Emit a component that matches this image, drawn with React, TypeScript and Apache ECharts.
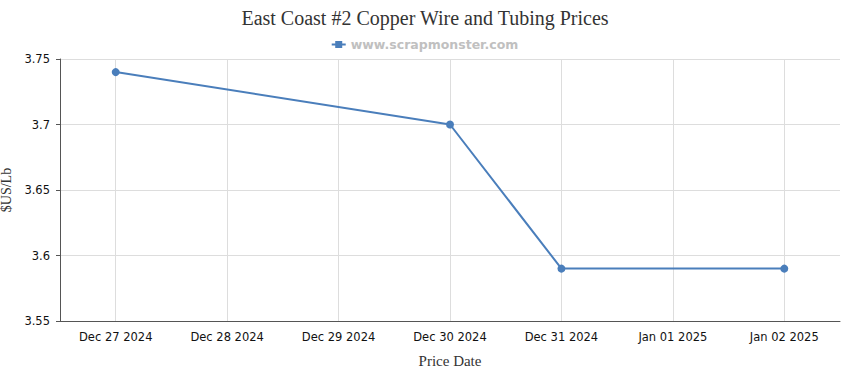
import React, { useEffect, useRef } from "react";
import * as echarts from "echarts";

const categories = ["Dec 27 2024", "Dec 28 2024", "Dec 29 2024", "Dec 30 2024", "Dec 31 2024", "Jan 01 2025", "Jan 02 2025"];
const prices: (number | null)[] = [3.74, null, null, 3.7, 3.59, null, 3.59];
const yTicks = { min: 3.55, max: 3.75, interval: 0.05 };
const seriesName = "www.scrapmonster.com";

export default function App() {
  const ref = useRef<HTMLDivElement>(null);
  useEffect(() => {
    document.body.style.margin = "0";
    const chart = echarts.init(ref.current!, null, { renderer: "svg" });
    chart.setOption({
      animation: false,
      title: {
        text: "East Coast #2 Copper Wire and Tubing Prices",
        left: "center",
        top: 3,
        textStyle: { fontFamily: "Liberation Serif, serif", fontSize: 20, fontWeight: "normal", color: "#333" },
      },
      legend: {
        top: 33,
        left: "center",
        itemWidth: 14,
        itemHeight: 7,
        itemGap: 6,
        data: [{ name: seriesName, icon: "path://M0,2.5H3.5V0H10.5V2.5H14V4.5H10.5V7H3.5V4.5H0Z" }],
        textStyle: { color: "#c0c0c0", fontWeight: "bold", fontSize: 12.5, fontFamily: "DejaVu Sans, sans-serif" },
      },
      grid: { left: 60, right: 10, top: 59, bottom: 49, containLabel: false, outerBoundsMode: "none" },
      xAxis: {
        type: "category",
        data: categories,
        boundaryGap: true,
        name: "Price Date",
        nameLocation: "middle",
        nameGap: 32,
        nameTextStyle: { fontFamily: "Liberation Serif, serif", fontSize: 15, color: "#333" },
        axisLine: { lineStyle: { color: "#555" } },
        axisTick: { alignWithLabel: true, lineStyle: { color: "#555" }, length: 4 },
        axisLabel: { color: "#111", fontSize: 11.5, fontFamily: "DejaVu Sans, sans-serif", margin: 10, interval: 0 },
        splitLine: { show: true, alignWithLabel: true, lineStyle: { color: "#ddd" } },
      },
      yAxis: {
        type: "value",
        min: yTicks.min,
        max: yTicks.max,
        interval: yTicks.interval,
        name: "$US/Lb",
        nameLocation: "middle",
        nameGap: 47,
        nameTextStyle: { fontFamily: "Liberation Serif, serif", fontSize: 14, color: "#333" },
        axisLine: { show: true, lineStyle: { color: "#555" } },
        axisTick: { show: true, length: 4, lineStyle: { color: "#555" } },
        axisLabel: { color: "#111", fontSize: 11.5, fontFamily: "DejaVu Sans, sans-serif", margin: 10, formatter: (v: number) => String(parseFloat(v.toFixed(2))) },
        splitLine: { lineStyle: { color: "#ddd" } },
      },
      series: [
        {
          name: seriesName,
          type: "line",
          data: prices,
          connectNulls: true,
          symbol: "circle",
          symbolSize: 8,
          itemStyle: { color: "#4a7ebb" },
          lineStyle: { color: "#4a7ebb", width: 2 },
        },
      ],
    });
    return () => chart.dispose();
  }, []);
  return <div ref={ref} style={{ width: 850, height: 370 }} />;
}
